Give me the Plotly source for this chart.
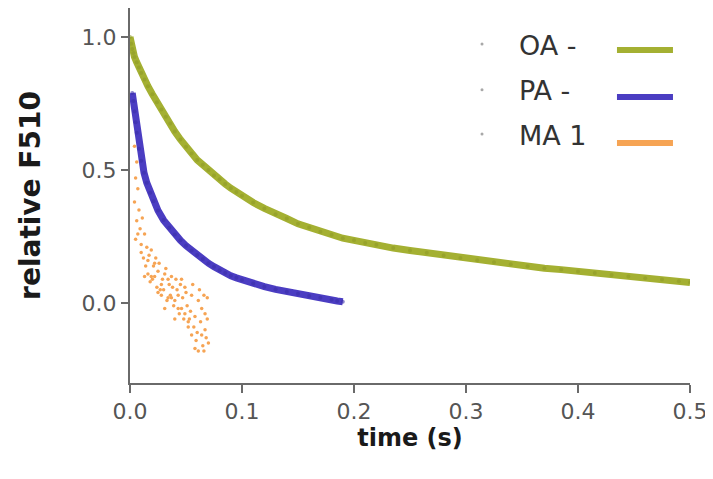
import plotly.graph_objects as go

# ---- data ----
oa_t = [0.000, 0.001, 0.002, 0.003, 0.004, 0.006, 0.008, 0.010, 0.013, 0.016,
        0.020, 0.024, 0.028, 0.032, 0.036, 0.040, 0.045, 0.050, 0.055, 0.060,
        0.065, 0.070, 0.075, 0.080, 0.085, 0.090, 0.095, 0.100, 0.110, 0.120,
        0.130, 0.140, 0.150, 0.160, 0.170, 0.180, 0.190, 0.200, 0.210, 0.220,
        0.235, 0.250, 0.265, 0.280, 0.295, 0.310, 0.325, 0.340, 0.355, 0.370,
        0.385, 0.400, 0.415, 0.430, 0.445, 0.460, 0.475, 0.490, 0.500]
oa_y = [1.00, 0.975, 0.955, 0.94, 0.925, 0.905, 0.885, 0.865, 0.84, 0.815,
        0.785, 0.755, 0.728, 0.70, 0.675, 0.645, 0.615, 0.588, 0.562, 0.538,
        0.52, 0.50, 0.48, 0.466, 0.448, 0.432, 0.418, 0.404, 0.378, 0.356,
        0.334, 0.318, 0.298, 0.284, 0.268, 0.257, 0.244, 0.236, 0.226, 0.219,
        0.207, 0.198, 0.189, 0.179, 0.170, 0.161, 0.154, 0.146, 0.139, 0.131,
        0.126, 0.119, 0.113, 0.106, 0.100, 0.094, 0.089, 0.082, 0.078]

pa_t = [0.002, 0.003, 0.004, 0.005, 0.006, 0.008, 0.010, 0.0125, 0.015, 0.018,
        0.021, 0.025, 0.030, 0.035, 0.040, 0.045, 0.050, 0.055, 0.060, 0.065,
        0.070, 0.075, 0.080, 0.085, 0.090, 0.095, 0.100, 0.110, 0.120, 0.130,
        0.140, 0.150, 0.160, 0.170, 0.180, 0.185, 0.190]
pa_y = [0.79, 0.76, 0.72, 0.68, 0.64, 0.58, 0.535, 0.49, 0.452, 0.415,
        0.383, 0.348, 0.312, 0.283, 0.258, 0.236, 0.216, 0.198, 0.181, 0.166,
        0.150, 0.137, 0.124, 0.113, 0.103, 0.095, 0.087, 0.074, 0.062, 0.052,
        0.043, 0.035, 0.027, 0.020, 0.013, 0.008, 0.005]

ma_t = [0.004, 0.006, 0.005, 0.007, 0.004, 0.008, 0.006, 0.009, 0.005, 0.011,
        0.010, 0.013, 0.012, 0.015, 0.014, 0.017, 0.016, 0.019, 0.018, 0.021,
        0.020, 0.023, 0.022, 0.025, 0.024, 0.027, 0.026, 0.029, 0.028, 0.031,
        0.030, 0.033, 0.032, 0.035, 0.034, 0.037, 0.036, 0.039, 0.038, 0.041,
        0.040, 0.043, 0.042, 0.045, 0.044, 0.047, 0.046, 0.049, 0.048, 0.051,
        0.050, 0.053, 0.052, 0.055, 0.054, 0.057, 0.056, 0.059, 0.058, 0.061,
        0.060, 0.063, 0.062, 0.065, 0.064, 0.067, 0.066, 0.069, 0.068, 0.069,
        0.070, 0.067, 0.064, 0.061, 0.058, 0.066, 0.055, 0.052, 0.049, 0.046,
        0.043, 0.040, 0.037, 0.034, 0.031, 0.028, 0.025, 0.022, 0.019, 0.016,
        0.013, 0.010, 0.007]
ma_y = [0.59, 0.53, 0.47, 0.43, 0.38, 0.35, 0.31, 0.28, 0.24, 0.32,
        0.22, 0.26, 0.17, 0.21, 0.14, 0.18, 0.11, 0.20, 0.08, 0.14,
        0.09, 0.17, 0.10, 0.12, 0.06, 0.05, 0.15, 0.09, 0.03, 0.11,
        0.05, 0.01, 0.13, 0.07, 0.02, 0.10, 0.03, -0.01, 0.06, 0.09,
        0.01, -0.02, 0.05, 0.07, -0.04, 0.02, -0.02, 0.06, -0.06, -0.01,
        0.04, -0.06, -0.09, 0.03, -0.03, -0.09, 0.07, -0.14, -0.05, 0.01,
        -0.11, -0.07, 0.05, -0.16, -0.02, -0.10, 0.03, -0.06, -0.13, 0.02,
        -0.15, -0.04, -0.12, -0.18, -0.17, -0.18, -0.12, -0.07, -0.04, 0.09,
        0.03, -0.06, 0.02, 0.09, -0.02, 0.07, 0.04, 0.15, 0.10, 0.16,
        0.10, 0.19, 0.26]

series_names = ["OA -", "PA -", "MA 1"]
series_colors = ["#A4B032", "#4B3DC2", "#F6A454"]

x_ticks = [0.0, 0.1, 0.2, 0.3, 0.4, 0.5]
x_ticktext = ["0.0", "0.1", "0.2", "0.3", "0.4", "0.5"]
y_ticks = [0.0, 0.5, 1.0]
y_ticktext = ["0.0", "0.5", "1.0"]

FONT = "DejaVu Sans"
AX = "#6a6a6a"

fig = go.Figure()
fig.add_trace(go.Scatter(x=oa_t, y=oa_y, mode="lines+markers", name=series_names[0],
                         line=dict(color=series_colors[0], width=7),
                         marker=dict(color="#8F9B26", size=4, opacity=0.6),
                         showlegend=False))
fig.add_trace(go.Scatter(x=pa_t, y=pa_y, mode="lines+markers", name=series_names[1],
                         line=dict(color=series_colors[1], width=7),
                         marker=dict(color="#3A2FA8", size=4, opacity=0.6),
                         showlegend=False))
fig.add_trace(go.Scatter(x=ma_t, y=ma_y, mode="markers", name=series_names[2],
                         marker=dict(color=series_colors[2], size=3.5),
                         showlegend=False))

# legend drawn manually: dot, label, coloured bar
row_text_y = [0.9013, 0.7787, 0.6613]
row_bar_y = [0.888, 0.7627, 0.640]
shapes = []
annotations = []
for name, color, ty, by in zip(series_names, series_colors, row_text_y, row_bar_y):
    shapes.append(dict(type="circle", xref="paper", yref="paper",
                       x0=0.6286 - 0.0027, x1=0.6286 + 0.0027,
                       y0=ty + 0.003 - 0.004, y1=ty + 0.003 + 0.004,
                       fillcolor="#a8a8a8", line=dict(width=0)))
    shapes.append(dict(type="line", xref="paper", yref="paper",
                       x0=0.8696, x1=0.9696, y0=by, y1=by,
                       line=dict(color=color, width=6)))
    annotations.append(dict(text=name, xref="paper", yref="paper", x=0.691, y=ty,
                            xanchor="left", yanchor="middle", showarrow=False,
                            font=dict(family=FONT, size=27, color="#333333")))

# the page body adds an 8px offset, so the figure is drawn 8px smaller
fig.update_layout(
    width=705, height=471,
    margin=dict(l=122, r=23, t=0, b=96),
    paper_bgcolor="white", plot_bgcolor="white",
    shapes=shapes, annotations=annotations,
    xaxis=dict(range=[0, 0.5], tickvals=x_ticks, ticktext=x_ticktext,
               showline=True, linecolor=AX, linewidth=2, ticks="outside",
               ticklen=8, tickwidth=2, tickcolor=AX, showgrid=False, zeroline=False,
               tickfont=dict(family=FONT, size=22, color="#555555"),
               title=dict(text="<b>time (s)</b>", standoff=5,
                          font=dict(family=FONT, size=24, color="#1a1a1a"))),
    yaxis=dict(range=[-0.30, 1.109], tickvals=y_ticks, ticktext=y_ticktext,
               showline=True, linecolor=AX, linewidth=2, ticks="outside",
               ticklen=7, tickwidth=2, tickcolor=AX, showgrid=False, zeroline=False,
               tickfont=dict(family=FONT, size=22, color="#555555"),
               title=dict(text="<b>relative F510</b>", standoff=33,
                          font=dict(family=FONT, size=28, color="#1a1a1a"))),
)

fig.write_html("out.html")
